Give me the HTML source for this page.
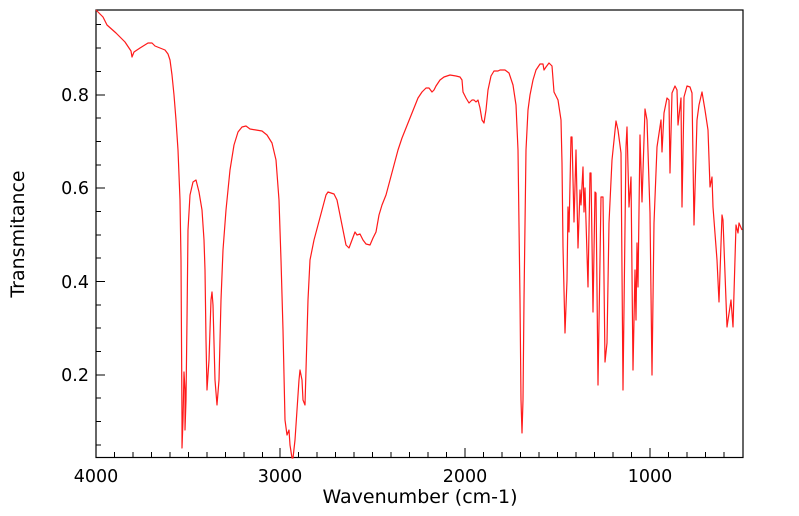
<!DOCTYPE html>
<html><head><style>body{margin:0;background:#fff}svg{display:block}text{font-family:"DejaVu Sans","Liberation Sans",sans-serif;font-size:17.5px;fill:#000}.l{font-size:19px}</style></head><body>
<svg width="799" height="516" viewBox="0 0 799 516">
<rect x="96" y="10" width="647" height="447.5" fill="none" stroke="#000" stroke-width="1.2"/>
<g stroke="#000" stroke-width="1">
<path d="M96 457v-9M280 457v-9M465 457v-9M650 457v-9"/>
<path d="M114.5 457v-5M133 457v-5M151.5 457v-5M170 457v-5M188.5 457v-5M207 457v-5M225.5 457v-5M244 457v-5M262.5 457v-5M298.5 457v-5M317 457v-5M335.5 457v-5M354 457v-5M372.5 457v-5M391 457v-5M409.5 457v-5M428 457v-5M446.5 457v-5M483.5 457v-5M502 457v-5M520.5 457v-5M539 457v-5M557.5 457v-5M576 457v-5M594.5 457v-5M613 457v-5M631.5 457v-5M668.5 457v-5M687 457v-5M705.5 457v-5M724 457v-5"/>
<path d="M96 95h9M96 188h9M96 281.5h9M96 375h9"/>
<path d="M96 24.5h5M96 48h5M96 71.5h5M96 118h5M96 141.5h5M96 165h5M96 211.5h5M96 235h5M96 258h5M96 305h5M96 328h5M96 351.5h5M96 398h5M96 421.5h5M96 445h5"/>
</g>
<g text-anchor="end"><text x="89" y="101">0.8</text><text x="89" y="194">0.6</text><text x="89" y="288">0.4</text><text x="89" y="381">0.2</text></g>
<g text-anchor="middle"><text x="96" y="482">4000</text><text x="280" y="482">3000</text><text x="465" y="482">2000</text><text x="650" y="482">1000</text>
<text class="l" x="420" y="503">Wavenumber (cm-1)</text>
<text class="l" transform="translate(24 234) rotate(-90)">Transmitance</text></g>
<polyline fill="none" stroke="#ff1a1a" stroke-width="1.2" stroke-linejoin="round" points="96,10 103,17 107,25 116,33 125,42 131,51 132,57 134,52 140,48 148,43 152,43 155,46 160,48 165,50 168,54 170,60 172,75 174,95 176,120 178,150 180,200 181,260 182,420 182,448 183,420 184,372 185,390 185,430 186,400 187,320 188,230 190,195 193,182 196,180 199,192 202,210 204,240 205,270 206,340 207,390 209,360 211,300 212,292 213,305 215,380 217,405 219,380 221,300 223,250 226,210 230,170 234,145 238,132 242,127 246,126 250,129 256,130 262,131 267,135 272,143 276,160 279,200 281,260 283,330 285,420 287,435 289,430 290,445 292,458 293,458 295,440 297,410 299,380 300,370 302,380 303,400 305,405 306,370 308,300 310,260 314,240 318,225 322,210 326,195 328,192 334,194 337,200 340,215 343,230 346,245 349,248 352,240 355,232 357,235 360,234 363,240 366,244 370,245 373,238 376,232 379,215 382,205 386,195 390,180 394,165 398,150 402,138 406,128 410,118 414,108 418,98 422,92 426,88 429,88 432,92 434,90 436,86 440,80 444,77 450,75 456,76 460,77 462,80 463,92 466,98 469,103 472,100 474,100 476,102 478,100 480,108 482,120 484,123 486,110 488,90 491,76 494,71 498,71 500,70 505,70 509,73 513,85 516,105 518,150 520,300 521,400 522,433 523,400 524,300 526,150 528,110 530,95 533,80 536,70 540,64 543,64 544,70 546,67 549,63 552,66 554,92 558,100 561,120 562,163 563,247 565,333 567,280 568,207 569,232 571,137 572,137 574,222 576,150 578,248 580,190 581,205 583,167 584,212 585,188 588,287 590,173 591,173 593,312 595,192 596,193 598,385 601,197 603,197 605,362 607,343 609,223 612,160 616,121 618,130 621,153 623,390 626,147 627,127 629,207 631,177 633,370 635,270 636,320 637,243 638,287 640,135 642,202 645,109 647,120 650,213 652,375 654,223 657,147 661,120 662,152 664,113 667,98 669,100 670,173 672,93 675,86 677,90 678,125 681,98 682,207 684,97 687,86 690,87 692,93 694,225 697,120 699,105 702,92 705,110 708,130 710,187 712,177 713,207 717,260 719,302 722,215 723,220 727,327 731,300 733,327 736,225 738,233 739,223 742,230"/>
</svg>
</body></html>
